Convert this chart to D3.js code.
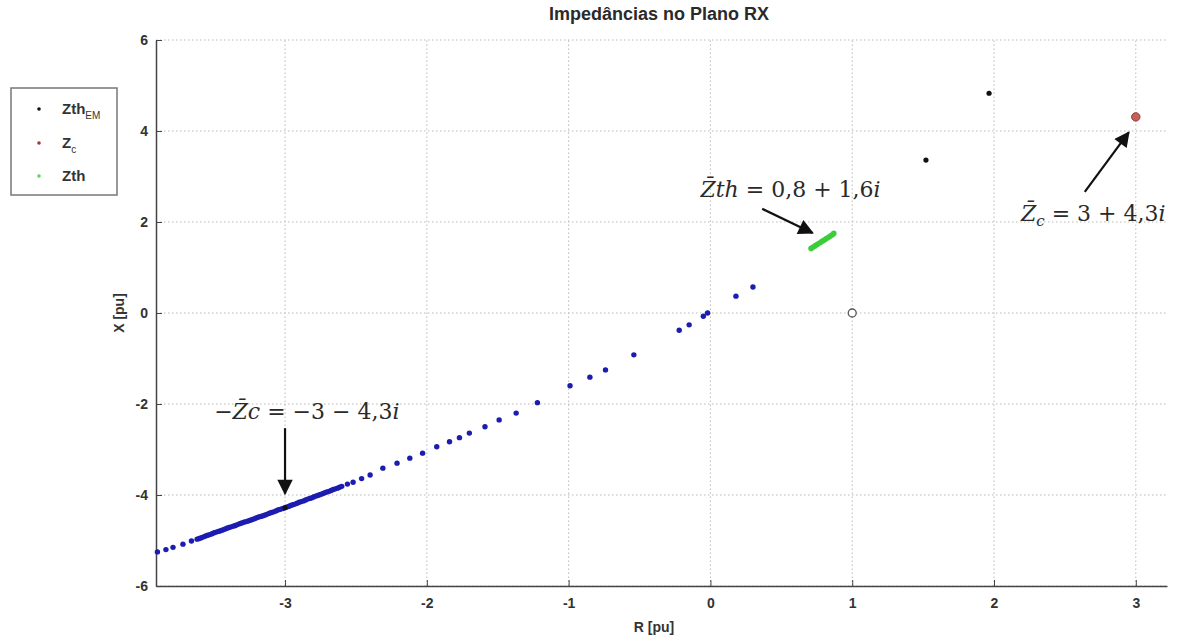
<!DOCTYPE html>
<html>
<head>
<meta charset="utf-8">
<script src="https://cdn.jsdelivr.net/npm/d3@7"></script>
<style>
  body { margin: 0; background: #fff; }
  svg { display: block; font-family: "Liberation Sans", Arial, sans-serif; }
  .tick text { font-size: 14px; font-weight: bold; fill: #333; }
</style>
</head>
<body>
<div id="chart"></div>
<script>
const W = 1184, H = 638;

// ZthEM trajectory (blue dots), [R, X]
const zthEmTrack = [
  [-3.90,-5.25],[-3.84,-5.20],[-3.79,-5.15],[-3.72,-5.08],[-3.66,-5.01],[-3.62,-4.97],
  [-3.605,-4.955],[-3.59,-4.94],[-3.575,-4.92],[-3.56,-4.90],[-3.545,-4.885],[-3.53,-4.87],
  [-3.515,-4.85],[-3.50,-4.83],[-3.485,-4.815],[-3.47,-4.80],[-3.455,-4.785],[-3.44,-4.77],
  [-3.425,-4.75],[-3.41,-4.73],[-3.395,-4.715],[-3.38,-4.70],[-3.365,-4.685],[-3.35,-4.67],
  [-3.335,-4.65],[-3.32,-4.63],[-3.305,-4.615],[-3.29,-4.60],[-3.275,-4.585],[-3.26,-4.57],
  [-3.245,-4.555],[-3.23,-4.54],[-3.215,-4.52],[-3.20,-4.50],[-3.185,-4.485],[-3.17,-4.47],
  [-3.155,-4.455],[-3.14,-4.44],[-3.125,-4.42],[-3.11,-4.40],[-3.095,-4.385],[-3.08,-4.37],
  [-3.065,-4.35],[-3.05,-4.33],[-3.035,-4.315],[-3.02,-4.30],[-3.005,-4.285],[-2.99,-4.27],
  [-2.975,-4.25],[-2.96,-4.23],[-2.945,-4.215],[-2.93,-4.20],[-2.915,-4.18],[-2.90,-4.16],
  [-2.885,-4.145],[-2.87,-4.13],[-2.855,-4.11],[-2.84,-4.09],[-2.825,-4.075],[-2.81,-4.06],
  [-2.795,-4.04],[-2.78,-4.02],[-2.765,-4.005],[-2.75,-3.99],[-2.735,-3.97],[-2.72,-3.95],
  [-2.705,-3.935],[-2.69,-3.92],[-2.675,-3.90],[-2.66,-3.88],[-2.645,-3.865],[-2.63,-3.85],
  [-2.615,-3.83],[-2.60,-3.81],[-2.56,-3.76],[-2.52,-3.72],
  [-2.46,-3.64],[-2.40,-3.56],[-2.31,-3.41],[-2.21,-3.30],[-2.12,-3.19],[-2.03,-3.08],
  [-1.93,-2.94],[-1.84,-2.83],[-1.77,-2.74],[-1.70,-2.64],[-1.59,-2.50],[-1.49,-2.35],
  [-1.37,-2.20],[-1.22,-1.97],[-0.99,-1.60],[-0.85,-1.41],[-0.74,-1.25],[-0.54,-0.92],
  [-0.22,-0.38],[-0.15,-0.26],[-0.05,-0.07],[-0.02,0.00],[0.18,0.37],[0.30,0.57]
];
// ZthEM (black dots)
const zthEm = [[-3.00,-4.28],[1.52,3.36],[1.965,4.83]];
// Zc (red)
const zc = [[3.00,4.31]];
// Zth (green)
const zth = [
  [0.71,1.42],[0.725,1.45],[0.74,1.48],[0.755,1.51],[0.77,1.54],[0.785,1.57],
  [0.80,1.60],[0.815,1.63],[0.83,1.66],[0.845,1.69],[0.86,1.72],[0.87,1.75]
];
// origin marker (open circle)
const origin = [[1.00,0.00]];

const xTicks = [-3,-2,-1,0,1,2,3];
const yTicks = [-6,-4,-2,0,2,4,6];

const legendItems = [
  {name: "Zth", sub: "EM", color: "#111"},
  {name: "Z", sub: "c", color: "#9a3a3a"},
  {name: "Zth", sub: "", color: "#5fd35f"}
];

// annotations: text anchor, arrow tail and head in data units
const notes = [
  {pre: "−", z: "Z\u0304", zi: "c", rest: " = −3 − 4,3", tx: -3.50, ty: -2.33, from: [-3.0,-2.53], to: [-3.0,-3.97]},
  {pre: "", z: "Z\u0304", zi: "th", rest: " = 0,8 + 1,6", tx: -0.07, ty: 2.56, from: [0.365,2.29], to: [0.72,1.76]},
  {pre: "", z: "Z\u0304", zi: "", sub: "c", rest: " = 3 + 4,3", tx: 2.19, ty: 2.02, from: [2.64,2.66], to: [2.95,3.97]}
];

const svg = d3.select("#chart").append("svg").attr("width", W).attr("height", H);
const margin = {top: 40, right: 17, bottom: 52, left: 156};

const x = d3.scaleLinear().domain([-3.91, 3.22]).range([margin.left, W - margin.right]);
const y = d3.scaleLinear().domain([-6, 6]).range([H - margin.bottom, margin.top]);

// grid
svg.append("g").selectAll("line").data(xTicks).join("line")
  .attr("x1", d => x(d)).attr("x2", d => x(d))
  .attr("y1", y(-6)).attr("y2", y(6))
  .attr("stroke", "#bbb").attr("stroke-dasharray", "1.5,2.5");
svg.append("g").selectAll("line").data(yTicks).join("line")
  .attr("x1", x.range()[0]).attr("x2", x.range()[1])
  .attr("y1", d => y(d)).attr("y2", d => y(d))
  .attr("stroke", "#bbb").attr("stroke-dasharray", "1.5,2.5");

// axes
const fmt = d => String(d);
const xAxis = d3.axisBottom(x).tickValues(xTicks).tickFormat(fmt).tickSizeInner(-6).tickSizeOuter(0).tickPadding(12);
const yAxis = d3.axisLeft(y).tickValues(yTicks).tickFormat(fmt).tickSizeInner(-6).tickSizeOuter(0).tickPadding(8);
const gx = svg.append("g").attr("transform", "translate(0," + y(-6) + ")").call(xAxis);
const gy = svg.append("g").attr("transform", "translate(" + x.range()[0] + ",0)").call(yAxis);
[gx, gy].forEach(g => {
  g.select(".domain").attr("stroke", "#444").attr("stroke-width", 1.5);
  g.selectAll(".tick line").attr("stroke", "#444");
});

svg.append("text").attr("x", 659).attr("y", 20)
  .attr("text-anchor", "middle").style("font-size", "18px").style("fill", "#2a2a2a")
  .style("font-weight", "bold")
  .text("Impedâncias no Plano RX");
svg.append("text").attr("x", 654).attr("y", 632)
  .attr("text-anchor", "middle").style("font-size", "14px").style("font-weight", "bold").style("fill", "#333")
  .text("R [pu]");
svg.append("text").attr("transform", "translate(124," + y(0) + ") rotate(-90)")
  .attr("text-anchor", "middle").style("font-size", "14px").style("font-weight", "bold").style("fill", "#333")
  .text("X [pu]");

// data marks
const plot = svg.append("g");
plot.selectAll(".em").data(zthEmTrack).join("circle")
  .attr("cx", d => x(d[0])).attr("cy", d => y(d[1])).attr("r", 2.7)
  .attr("fill", "#1c1cb0");
plot.selectAll(".thg").data(zth).join("circle")
  .attr("cx", d => x(d[0])).attr("cy", d => y(d[1])).attr("r", 2.8)
  .attr("fill", "#3ccc3c");
plot.selectAll(".blk").data(zthEm).join("circle")
  .attr("cx", d => x(d[0])).attr("cy", d => y(d[1])).attr("r", 2.6)
  .attr("fill", "#111");
plot.selectAll(".zc").data(zc).join("circle")
  .attr("cx", d => x(d[0])).attr("cy", d => y(d[1])).attr("r", 4.2)
  .attr("fill", "#c8605a").attr("stroke", "#8a3a3a").attr("stroke-width", 1);
plot.selectAll(".org").data(origin).join("circle")
  .attr("cx", d => x(d[0])).attr("cy", d => y(d[1])).attr("r", 4)
  .attr("fill", "#fff").attr("stroke", "#555").attr("stroke-width", 1.3);

// annotations
const defs = svg.append("defs");
defs.append("marker").attr("id", "arrowhead").attr("viewBox", "0 0 10 10")
  .attr("refX", 9).attr("refY", 5).attr("markerWidth", 8).attr("markerHeight", 7)
  .attr("markerUnits", "strokeWidth").attr("orient", "auto")
  .append("path").attr("d", "M0,0 L10,5 L0,10 Z").attr("fill", "#111");

const ann = svg.append("g");
ann.selectAll("line").data(notes).join("line")
  .attr("x1", d => x(d.from[0])).attr("y1", d => y(d.from[1]))
  .attr("x2", d => x(d.to[0])).attr("y2", d => y(d.to[1]))
  .attr("stroke", "#111").attr("stroke-width", 2.2).attr("marker-end", "url(#arrowhead)");

const serif = "'DejaVu Serif', 'Liberation Serif', serif";
notes.forEach(n => {
  const t = ann.append("text").attr("x", x(n.tx)).attr("y", y(n.ty))
    .style("font-family", serif).style("font-size", "22px").style("fill", "#2a2a2a");
  if (n.pre) t.append("tspan").text(n.pre);
  t.append("tspan").style("font-style", "italic").text(n.z + n.zi);
  if (n.sub) t.append("tspan").style("font-style", "italic").style("font-size", "15px").attr("dy", 5).text(n.sub);
  t.append("tspan").attr("dy", n.sub ? -5 : 0).text(n.rest);
  t.append("tspan").style("font-style", "italic").text("i");
});

// legend
const lg = svg.append("g").attr("transform", "translate(11,88)");
lg.append("rect").attr("width", 106).attr("height", 107)
  .attr("fill", "#fff").attr("stroke", "#777").attr("stroke-width", 1.5);
const rows = lg.selectAll(".row").data(legendItems).join("g")
  .attr("transform", (d, i) => "translate(0," + [21, 55, 88][i] + ")");
rows.append("circle").attr("cx", 28).attr("cy", 0).attr("r", 1.8).attr("fill", d => d.color);
const lt = rows.append("text").attr("x", 51).attr("y", 5)
  .style("font-size", "15px").style("font-weight", "bold").style("fill", "#333");
lt.append("tspan").text(d => d.name);
lt.append("tspan").attr("dy", 5).style("font-size", "10px").style("font-weight", "normal").text(d => d.sub);
</script>
</body>
</html>
